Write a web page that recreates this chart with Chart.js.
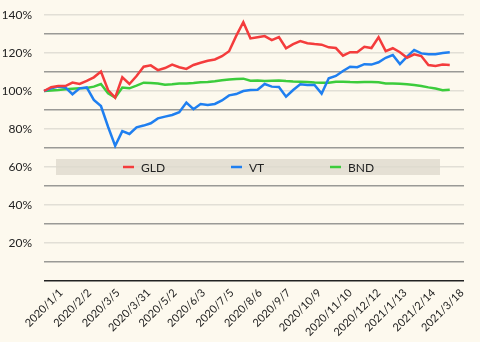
<!DOCTYPE html>
<html>
<head>
<meta charset="utf-8">
<script src="https://cdn.jsdelivr.net/npm/chart.js@4.4.1/dist/chart.umd.min.js"></script>
<style>
  html, body { margin: 0; padding: 0; background: #fdf9ee; }
  #wrap { width: 480px; height: 342px; position: relative; }
</style>
</head>
<body>
<div id="wrap"><canvas id="chart"></canvas></div>
<script>
// one date per point (the last two are empty slots on the right)
const dates = [
  '2020/1/1', '2020/1/9', '2020/1/17', '2020/1/25', '2020/2/2', '2020/2/10', '2020/2/18', '2020/2/26',
  '2020/3/5', '2020/3/12', '2020/3/18', '2020/3/24', '2020/3/31', '2020/4/8', '2020/4/16', '2020/4/24',
  '2020/5/2', '2020/5/10', '2020/5/18', '2020/5/26', '2020/6/3', '2020/6/11', '2020/6/19', '2020/6/27',
  '2020/7/5', '2020/7/13', '2020/7/21', '2020/7/29', '2020/8/6', '2020/8/14', '2020/8/22', '2020/8/30',
  '2020/9/7', '2020/9/15', '2020/9/23', '2020/10/1', '2020/10/9', '2020/10/17', '2020/10/25', '2020/11/2',
  '2020/11/10', '2020/11/18', '2020/11/26', '2020/12/4', '2020/12/12', '2020/12/20', '2020/12/28', '2021/1/5',
  '2021/1/13', '2021/1/21', '2021/1/29', '2021/2/6', '2021/2/14', '2021/2/22', '2021/3/2', '2021/3/10',
  '2021/3/18', '2021/3/26', '2021/4/3', '2021/4/11'
];

// labels shown under the x axis
const tickLabels = [
  '2020/1/1', '2020/2/2', '2020/3/5', '2020/3/31', '2020/5/2', '2020/6/3', '2020/7/5', '2020/8/6',
  '2020/9/7', '2020/10/9', '2020/11/10', '2020/12/12', '2021/1/13', '2021/2/14', '2021/3/18'
];

// value as % of the first point
const gld = [
  100, 102, 102.6, 102.6, 104.4, 103.7, 105.3, 107.2, 110.2, 100.5, 96.5, 107.2, 103.7, 107.9, 112.8, 113.5,
  111, 112.1, 113.9, 112.5, 111.6, 113.7, 114.9, 115.9, 116.6, 118.3, 120.9, 129, 136.2, 127.7, 128.3, 128.9,
  126.8, 128.4, 122.5, 124.7, 126.3, 125.1, 124.7, 124.4, 123, 122.6, 118.6, 120.4, 120.4, 123.3, 122.6, 128.3,
  121, 122.5, 120.4, 117.5, 119.3, 118.4, 113.7, 113.2, 113.9, 113.7
];
const vt = [
  100, 101.4, 102.3, 101.9, 98.3, 101.4, 101.9, 95.3, 92.1, 81.2, 71.1, 78.9, 77.4, 80.9, 81.8, 83,
  85.6, 86.5, 87.4, 88.8, 93.9, 90.4, 93.1, 92.7, 93.2, 95, 97.7, 98.4, 100, 100.5, 100.7, 103.7,
  102.3, 102.1, 97, 100.5, 103.5, 103.2, 103.2, 98.6, 106.7, 107.9, 110.5, 112.8, 112.5, 114.1, 113.9, 115.1,
  117.5, 118.9, 114.2, 118.1, 121.6, 119.8, 119.3, 119.3, 120, 120.4
];
const bnd = [
  100, 100.2, 100.5, 100.9, 101.2, 101.4, 101.6, 102.3, 103.7, 98.8, 96.5, 101.8, 101.4, 102.8, 104.4, 104.2,
  104, 103.3, 103.5, 104, 104, 104.2, 104.6, 104.7, 105.1, 105.6, 106, 106.3, 106.5, 105.4, 105.5, 105.2,
  105.4, 105.5, 105.2, 105, 104.9, 104.8, 104.5, 104.3, 104.3, 104.9, 104.9, 104.7, 104.6, 104.7, 104.7, 104.6,
  104, 103.9, 103.8, 103.5, 103.1, 102.6, 101.9, 101.3, 100.4, 100.7
];

const seriesNames = ['GLD', 'VT', 'BND'];
const seriesColors = ['#f43c3c', '#1f7ff0', '#3ccc3c'];

const FONT = 'Lato';

// rotated x labels, centred on their tick
const xLabelPlugin = {
  id: 'xLabels',
  afterDraw(chart) {
    const ctx = chart.ctx, xs = chart.scales.x, area = chart.chartArea;
    ctx.save();
    ctx.font = '11px ' + FONT;
    ctx.fillStyle = '#222';
    ctx.textAlign = 'center';
    ctx.textBaseline = 'middle';
    dates.forEach((d, i) => {
      if (!tickLabels.includes(d)) return;
      const w = ctx.measureText(d).width;
      const x = xs.getPixelForValue(i);
      const y = area.bottom + 6 + (w + 11) * Math.SQRT1_2 / 2;
      ctx.save();
      ctx.translate(x, y);
      ctx.rotate(-Math.PI / 4);
      ctx.fillText(d, 0, 0);
      ctx.restore();
    });
    ctx.restore();
  }
};

// legend band inside the plot, sitting on the 60% line
const legendBox = {
  id: 'legendBox',
  beforeDatasetsDraw(chart) {
    const { ctx, chartArea: a, scales: { y } } = chart;
    const cy = y.getPixelForValue(60);
    ctx.save();
    ctx.fillStyle = 'rgba(222,218,205,0.8)';
    ctx.fillRect(a.left + 12, cy - 8, a.width - 36, 16);
    ctx.font = '12px ' + FONT;
    ctx.textBaseline = 'middle';
    ctx.textAlign = 'left';
    const offs = [79, 187, 286];
    chart.data.datasets.forEach((ds, i) => {
      const x = a.left + offs[i];
      ctx.strokeStyle = ds.borderColor;
      ctx.lineWidth = 2.5;
      ctx.beginPath();
      ctx.moveTo(x, cy);
      ctx.lineTo(x + 11, cy);
      ctx.stroke();
      ctx.fillStyle = '#222';
      ctx.fillText(ds.label, x + 18, cy + 1);
    });
    ctx.restore();
  }
};

new Chart(document.getElementById('chart'), {
  type: 'line',
  data: {
    labels: dates,
    datasets: [gld, vt, bnd].map((vals, i) => ({
      label: seriesNames[i],
      data: vals,
      borderColor: seriesColors[i],
      backgroundColor: seriesColors[i],
      borderWidth: 2.5,
      pointRadius: 0,
      tension: 0,
      fill: false
    }))
  },
  options: {
    responsive: true,
    maintainAspectRatio: false,
    animation: false,
    layout: { padding: { left: 3, top: 5.5, right: 16, bottom: 61 } },
    scales: {
      x: {
        type: 'category',
        grid: { display: false, drawTicks: false },
        border: { display: false },
        ticks: { display: false }
      },
      y: {
        min: 0,
        max: 145,
        border: { display: false },
        grid: {
          drawTicks: false,
          lineWidth: 1.5,
          color: c => c.tick.value === 0 ? '#222' : (c.tick.value % 20 === 0 ? '#e2dfd6' : '#9a9a96')
        },
        ticks: {
          stepSize: 10,
          includeBounds: false,
          padding: 12,
          color: '#222',
          font: { family: FONT, size: 12 },
          callback: v => (v > 0 && v % 20 === 0) ? v + '%' : ''
        },
        afterFit: s => {
          s.width = 41;
          s.paddingTop = 0;
          s.paddingBottom = 0;
        }
      }
    },
    plugins: {
      legend: { display: false },
      tooltip: { enabled: false }
    }
  },
  plugins: [legendBox, xLabelPlugin]
});
</script>
</body>
</html>
